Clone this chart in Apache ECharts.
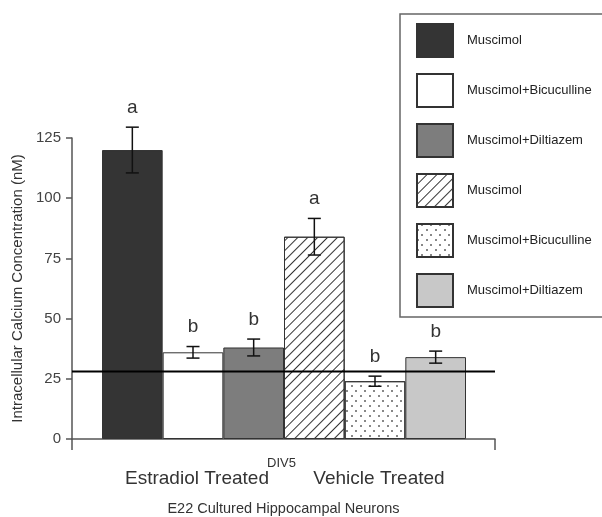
<!DOCTYPE html>
<html>
<head>
<meta charset="utf-8">
<script src="https://cdn.jsdelivr.net/npm/echarts@6/dist/echarts.min.js"></script>
<style>
  html, body { margin: 0; padding: 0; background: #fff; }
  #chart { width: 602px; height: 517px; }
</style>
</head>
<body>
<div id="chart"></div>
<script>
// 数据
const barKeys = ["E-Mus", "E-MusBic", "E-MusDil", "V-Mus", "V-MusBic", "V-MusDil"];
const legendLabels = ["Muscimol", "Muscimol+Bicuculline", "Muscimol+Diltiazem", "Muscimol", "Muscimol+Bicuculline", "Muscimol+Diltiazem"];
const values = [120, 36, 38, 84, 24, 34];
const errors = [9.5, 2.4, 3.5, 7.6, 2.1, 2.5];
const letters = ["a", "b", "b", "a", "b", "b"];
const groups = ["Estradiol Treated", "Vehicle Treated"];
const baseline = 28;
const yTicks = [0, 25, 50, 75, 100, 125];

const font = "Liberation Sans, Arial, sans-serif";

// 每个柱子的样式
const barStyles = [
	{ color: "#343434" },
	{ color: "#ffffff" },
	{ color: "#7d7d7d" },
	{
		color: "#ffffff",
		decal: {
			symbol: "rect",
			symbolSize: 1,
			rotation: -Math.PI / 4,
			dashArrayX: [1, 0],
			dashArrayY: [1, 5.5],
			color: "#333",
		},
	},
	{
		color: "#ffffff",
		decal: {
			symbol: "rect",
			symbolSize: 1,
			dashArrayX: [[1.3, 7], [0, 4, 1.3, 3]],
			dashArrayY: [1.3, 3],
			color: "#888",
		},
	},
	{ color: "#c8c8c8" },
];

let myChart = echarts.init(document.getElementById("chart"));

const barSeries = barKeys.map(function (key, i) {
	return {
		name: key,
		type: "bar",
		xAxisIndex: 1,
		yAxisIndex: 1,
		barGap: "-100%",
		barCategoryGap: 0,
		itemStyle: Object.assign({ borderColor: "#333", borderWidth: 1 }, barStyles[i]),
		data: values.map(function (v, j) { return j === i ? v : "-"; }),
		z: 2,
	};
});

const option = {
	animation: false,
	textStyle: { fontFamily: font },
	title: {
		text: "DIV5",
		left: 262,
		top: 452,
		textStyle: { fontSize: 13, fontWeight: "normal", color: "#333", fontFamily: font },
	},
	legend: {
		orient: "vertical",
		left: 400,
		top: 14,
		padding: [9, 60, 9, 16],
		itemGap: 15,
		itemWidth: 36,
		itemHeight: 33,
		icon: "rect",
		borderColor: "#666",
		borderWidth: 1.5,
		selectedMode: false,
		data: barKeys,
		formatter: function (name) {
			return legendLabels[barKeys.indexOf(name)];
		},
		textStyle: { fontSize: 13, color: "#222", fontFamily: font, padding: [0, 0, 0, 9] },
	},
	grid: [
		{ left: 72, right: 107, top: 138, bottom: 78, outerBoundsMode: "none" },
		{ left: 102, right: 136, top: 138, bottom: 78, outerBoundsMode: "none" },
	],
	xAxis: [
		{
			type: "value",
			gridIndex: 0,
			min: 0,
			max: 1,
			interval: 1,
			axisLine: { lineStyle: { color: "#555", width: 1.5 } },
			axisTick: { show: true, length: 11, lineStyle: { color: "#555", width: 1.5 } },
			axisLabel: { show: false },
			splitLine: { show: false },
			name: "E22 Cultured Hippocampal Neurons",
			nameLocation: "middle",
			nameGap: 62,
			nameTextStyle: { fontSize: 14.5, color: "#333", fontFamily: font },
		},
		{
			type: "category",
			gridIndex: 1,
			data: barKeys,
			axisLine: { show: false },
			axisTick: { show: false },
			axisLabel: { show: false },
		},
		{
			type: "category",
			gridIndex: 1,
			position: "bottom",
			data: groups,
			axisLine: { show: false },
			axisTick: { show: false },
			axisLabel: {
				interval: 0,
				hideOverlap: false,
				fontSize: 19,
				color: "#333",
				margin: 30,
				padding: [0, 0, 0, 8],
				fontFamily: font,
			},
		},
	],
	yAxis: [
		{
			type: "value",
			gridIndex: 0,
			min: yTicks[0],
			max: yTicks[yTicks.length - 1],
			interval: 25,
			name: "Intracellular Calcium Concentration (nM)",
			nameLocation: "middle",
			nameGap: 44,
			nameTextStyle: { fontSize: 15, color: "#333", fontFamily: font },
			axisLine: { show: true, lineStyle: { color: "#555", width: 1.5 } },
			axisTick: { show: true, length: 6, lineStyle: { color: "#555", width: 1.5 } },
			axisLabel: { fontSize: 15, color: "#444", margin: 11, fontFamily: font },
			splitLine: { show: false },
		},
		{
			type: "value",
			gridIndex: 1,
			min: yTicks[0],
			max: yTicks[yTicks.length - 1],
			interval: 25,
			show: false,
			splitLine: { show: false },
		},
	],
	series: barSeries.concat([
		{
			// 误差线和显著性字母
			type: "custom",
			xAxisIndex: 1,
			yAxisIndex: 1,
			z: 5,
			renderItem: function (params, api) {
				const i = params.dataIndex;
				const top = api.coord([i, values[i] + errors[i]]);
				const bot = api.coord([i, values[i] - errors[i]]);
				const half = 6.5;
				const st = { stroke: "#111", lineWidth: 1.5 };
				return {
					type: "group",
					children: [
						{ type: "line", shape: { x1: top[0], y1: top[1], x2: bot[0], y2: bot[1] }, style: st },
						{ type: "line", shape: { x1: top[0] - half, y1: top[1], x2: top[0] + half, y2: top[1] }, style: st },
						{ type: "line", shape: { x1: bot[0] - half, y1: bot[1], x2: bot[0] + half, y2: bot[1] }, style: st },
						{
							type: "text",
							x: top[0],
							y: top[1] - 10,
							style: {
								text: letters[i],
								fill: "#333",
								fontSize: 19,
								fontFamily: font,
								align: "center",
								verticalAlign: "bottom",
							},
						},
					],
				};
			},
			data: values,
		},
		{
			// 基线
			type: "line",
			xAxisIndex: 0,
			yAxisIndex: 0,
			symbol: "none",
			z: 6,
			lineStyle: { color: "#000", width: 2 },
			data: [[0, baseline], [1, baseline]],
		},
	]),
};

myChart.setOption(option);
</script>
</body>
</html>
